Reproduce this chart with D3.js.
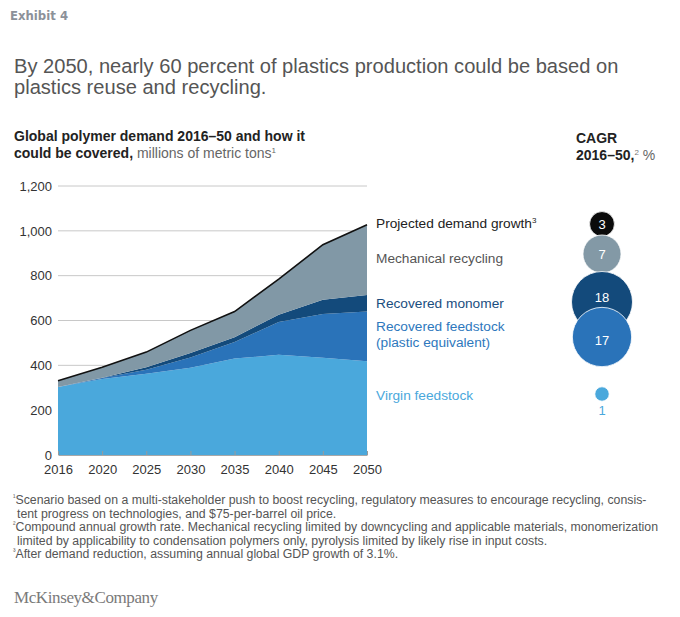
<!DOCTYPE html>
<html>
<head>
<meta charset="utf-8">
<script src="https://cdn.jsdelivr.net/npm/d3@7"></script>
<style>
  body { margin: 0; background: #fff; }
  svg { display: block; font-family: "Liberation Sans", Arial, sans-serif; }
</style>
</head>
<body>
<script>
const years = ['2016', '2020', '2025', '2030', '2035', '2040', '2045', '2050'];
const virgin = [303, 339, 363, 389, 430, 447, 434, 418];
const feedstock = [0, 4, 17, 46, 74, 146, 195, 222];
const monomer = [0, 2, 11, 20, 21, 33, 64, 74];
const mechanical = [28, 46, 68, 101, 115, 159, 245, 313];
const yTicks = [0, 200, 400, 600, 800, 1000, 1200];

// CAGR column, top to bottom
const cagrNames = ['Projected demand growth', 'Mechanical recycling', 'Recovered monomer', 'Recovered feedstock', 'Virgin feedstock'];
const cagrValues = [3, 7, 18, 17, 1];

const footnotes = [
  ['\u00b9', 'Scenario based on a multi-stakeholder push to boost recycling, regulatory measures to encourage recycling, consis-',
   'tent progress on technologies, and $75-per-barrel oil price.'],
  ['\u00b2', 'Compound annual growth rate. Mechanical recycling limited by downcycling and applicable materials, monomerization',
   'limited by applicability to condensation polymers only, pyrolysis limited by likely rise in input costs.'],
  ['\u00b3', 'After demand reduction, assuming annual global GDP growth of 3.1%.']
];

const keys = ['virgin', 'feedstock', 'monomer', 'mechanical'];
const colors = {virgin: '#4aa8dc', feedstock: '#2a73b9', monomer: '#134a7b', mechanical: '#8198a6'};

const rows = years.map((y, i) => ({
  year: y, virgin: virgin[i], feedstock: feedstock[i], monomer: monomer[i], mechanical: mechanical[i]
}));

const svg = d3.select('body').append('svg').attr('width', 680).attr('height', 617);
svg.append('rect').attr('width', 680).attr('height', 617).attr('fill', '#fff');

// header
svg.append('text').attr('x', 10).attr('y', 20).text('Exhibit 4')
  .attr('font-family', '"Liberation Sans Narrow", "DejaVu Sans Condensed", sans-serif')
  .attr('font-size', 13).attr('font-weight', 'bold').attr('fill', '#8c9199');

const title = svg.append('text').attr('font-size', 20.1).attr('fill', '#555');
title.append('tspan').attr('x', 14).attr('y', 73).text('By 2050, nearly 60 percent of plastics production could be based on');
title.append('tspan').attr('x', 14).attr('y', 94).text('plastics reuse and recycling.');

const sub = svg.append('text').attr('font-size', 14).attr('fill', '#222');
sub.append('tspan').attr('x', 14).attr('y', 141).attr('font-weight', 'bold').text('Global polymer demand 2016\u201350 and how it');
const sub2 = sub.append('tspan').attr('x', 14).attr('y', 158);
sub2.append('tspan').attr('font-weight', 'bold').text('could be covered,');
sub2.append('tspan').attr('fill', '#666').text(' millions of metric tons');
sub2.append('tspan').attr('fill', '#666').attr('font-size', 8).attr('dy', -5).text('1');

const cagr = svg.append('text').attr('font-size', 14).attr('fill', '#222').attr('font-weight', 'bold');
cagr.append('tspan').attr('x', 576).attr('y', 143).text('CAGR');
const cagr2 = cagr.append('tspan').attr('x', 576).attr('y', 160);
cagr2.append('tspan').text('2016\u201350,');
cagr2.append('tspan').attr('font-weight', 'normal').attr('fill', '#777').attr('font-size', 8).attr('dy', -5).text('2');
cagr2.append('tspan').attr('font-weight', 'normal').attr('fill', '#666').attr('dy', 5).text(' %');

// chart
const x = d3.scalePoint().domain(years).range([58, 367]);
const y = d3.scaleLinear().domain([0, 1200]).range([455, 186]);

svg.append('g').selectAll('line').data(yTicks.filter(d => d > 0)).join('line')
  .attr('x1', 58).attr('x2', 367)
  .attr('y1', d => y(d)).attr('y2', d => y(d))
  .attr('stroke', '#c8c8c8').attr('stroke-width', 1);

const series = d3.stack().keys(keys)(rows);
const area = d3.area().x(d => x(d.data.year)).y0(d => y(d[0])).y1(d => y(d[1]));
svg.append('g').selectAll('path').data(series).join('path')
  .attr('d', area).attr('fill', d => colors[d.key]);

const line = d3.line().x(d => x(d.data.year)).y(d => y(d[1]));
svg.append('path').datum(series[series.length - 1]).attr('d', line)
  .attr('fill', 'none').attr('stroke', '#111').attr('stroke-width', 1.6);

const yAxis = svg.append('g').attr('transform', 'translate(52,0)')
  .call(d3.axisLeft(y).tickValues(yTicks).tickFormat(d3.format(',')).tickSize(0).tickPadding(0));
yAxis.select('.domain').remove();
yAxis.selectAll('text').attr('font-size', 13).attr('fill', '#333').attr('font-family', null);

const xAxis = svg.append('g').attr('transform', 'translate(0,455)')
  .call(d3.axisBottom(x).tickSizeInner(-4).tickSizeOuter(0).tickPadding(10));
xAxis.select('.domain').attr('stroke', '#a8a8a8');
xAxis.selectAll('.tick line').attr('stroke', '#9a9a9a');
xAxis.selectAll('text').attr('font-size', 13).attr('fill', '#333').attr('font-family', null);

// CAGR legend
const legendColors = ['#0b0b0b', '#8399a6', '#134a7b', '#2a73b9', '#4aa8dc'];
const labelColors = ['#222', '#555', '#1b4e80', '#2e78bd', '#4aa8dc'];
const rowY = [224, 254, 302, 337, 394];
const numShift = [4.5, 4.5, -0.5, 8, 0];   // overlapping bubbles push their numbers apart
const r = d3.scaleSqrt().domain([0, 18]).range([0, 30.5]);

svg.append('g').selectAll('circle').data(cagrValues).join('circle')
  .attr('cx', 602).attr('cy', (d, i) => rowY[i]).attr('r', d => r(d))
  .attr('fill', (d, i) => legendColors[i]).attr('stroke', '#fff').attr('stroke-width', 0.8);

svg.append('g').selectAll('text').data(cagrValues).join('text')
  .attr('x', 602).attr('y', (d, i) => rowY[i] + (r(d) > 10 ? numShift[i] : r(d) + 14))
  .attr('text-anchor', 'middle').attr('font-size', 13)
  .attr('fill', (d, i) => r(d) > 10 ? '#fff' : legendColors[i])
  .text(d => d);

const labelY = [228, 263, 308, 331, 347];
const labels = svg.append('g').selectAll('text').data(cagrNames).join('text')
  .attr('x', 376).attr('y', (d, i) => i === 4 ? 400 : labelY[i]).attr('font-size', 13.7)
  .attr('fill', (d, i) => labelColors[i]);
labels.each(function(d, i) {
  const t = d3.select(this);
  if (i === 0) {
    t.append('tspan').text(d);
    t.append('tspan').attr('font-size', 8).attr('dy', -5).text('3');
  } else if (i === 3) {
    t.append('tspan').text(d);
    t.append('tspan').attr('x', 376).attr('y', labelY[4]).text('(plastic equivalent)');
  } else {
    t.text(d);
  }
});

// footnotes
const fn = svg.append('text').attr('font-size', 12.3).attr('fill', '#555');
let ly = 504;
footnotes.forEach(f => {
  const first = fn.append('tspan').attr('x', 13).attr('y', ly);
  first.append('tspan').attr('font-size', 7.5).attr('dy', -4).text(f[0]);
  first.append('tspan').attr('dy', 4).text(f[1]);
  ly += 13.6;
  if (f[2]) {
    fn.append('tspan').attr('x', 17).attr('y', ly).text(f[2]);
    ly += 13.6;
  }
});

svg.append('text').attr('x', 14).attr('y', 603).text('McKinsey&Company')
  .attr('font-family', '"Liberation Serif", "DejaVu Serif", serif')
  .attr('font-size', 17).attr('fill', '#7a7a7a').attr('letter-spacing', -0.4);
</script>
</body>
</html>
